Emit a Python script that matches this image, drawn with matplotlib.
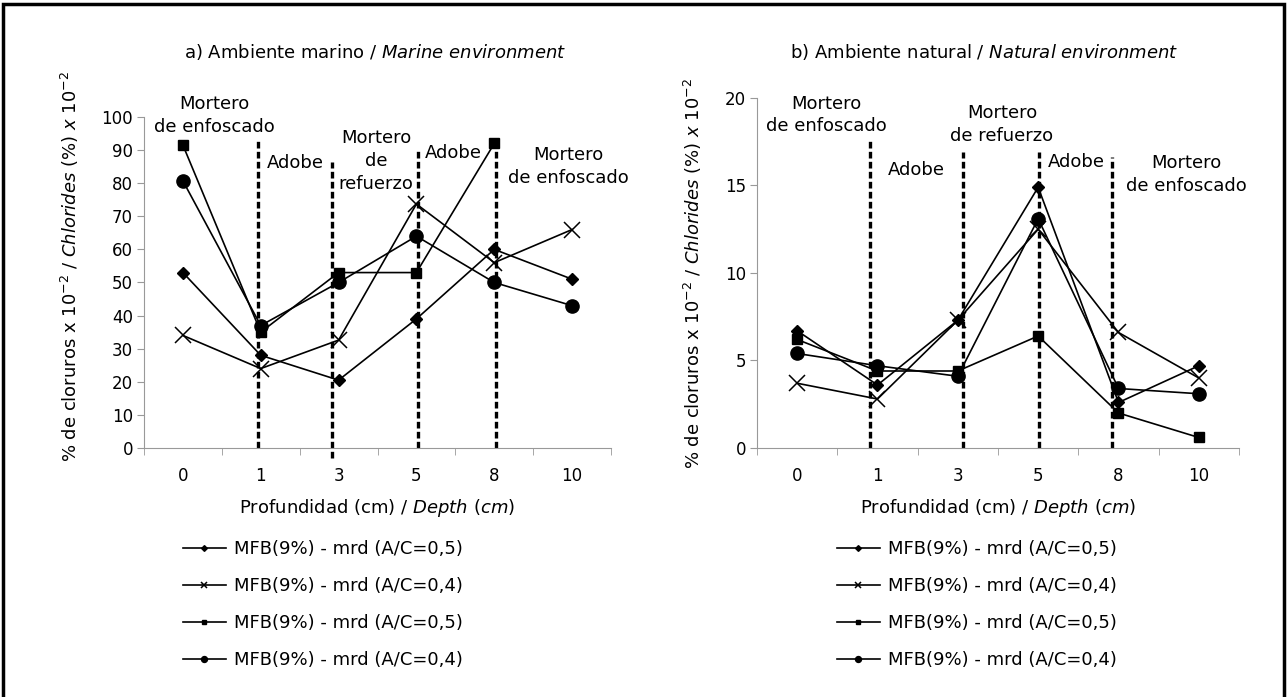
import numpy as np
import matplotlib
matplotlib.use("Agg")
import matplotlib.pyplot as plt
from matplotlib.patches import Rectangle

plt.rcParams['font.family'] = ['DejaVu Sans']

depths = ["0", "1", "3", "5", "8", "10"]
labels = ["MFB(9%) - mrd (A/C=0,5)", "MFB(9%) - mrd (A/C=0,4)",
          "MFB(9%) - mrd (A/C=0,5)", "MFB(9%) - mrd (A/C=0,4)"]

# a) marine environment
marine_diamond = [53, 28, 20.5, 39, 60, 51]
marine_cross = [34, 24, 32.6, 73.7, 56, 66]
marine_square = [91.5, 35, 53, 53, 92, np.nan]
marine_circle = [80.7, 37, 50, 64, 50, 43]

# b) natural environment
natural_diamond = [6.7, 3.6, 7.3, 14.9, 2.6, 4.7]
natural_cross = [3.7, 2.8, 7.3, 12.5, 6.6, 4.0]
natural_square = [6.2, 4.4, 4.4, 6.4, 2.0, 0.6]
natural_circle = [5.4, 4.7, 4.1, 13.1, 3.4, 3.1]

# layer boundaries (x in category units, top, bottom)
marine_bounds = [(0.965, 93, 0), (1.916, 86.4, -3), (3.02, 90, 0), (4.02, 92.5, 0)]
natural_bounds = [(0.907, 17.6, 0), (2.064, 16.9, 0), (3.01, 16.9, 0), (3.92, 16.6, 0)]

marine_notes = [(0.41, 100.4, "Mortero\nde enfoscado"), (1.44, 86.1, "Adobe"),
                (2.48, 86.7, "Mortero\nde\nrefuerzo"), (3.48, 89.1, "Adobe"),
                (4.95, 85.0, "Mortero\nde enfoscado")]
natural_notes = [(0.36, 19.03, "Mortero\nde enfoscado"), (1.48, 15.9, "Adobe"),
                 (2.55, 18.49, "Mortero\nde refuerzo"), (3.47, 16.34, "Adobe"),
                 (4.85, 15.63, "Mortero\nde enfoscado")]

fig = plt.figure(figsize=(12.87, 6.97), dpi=100)
fig.patch.set_facecolor('white')

ax1 = fig.add_axes([0.11189, 0.35725, 0.36286, 0.47489])
ax2 = fig.add_axes([0.58819, 0.35725, 0.37451, 0.50215])

styles = [dict(marker='D', ms=6.5), dict(marker='x', ms=11, mew=1.1),
          dict(marker='s', ms=7), dict(marker='o', ms=9.5)]

ylab = r"% de cloruros x 10$^{-2}$ / $\mathit{Chlorides\ (\%)\ x\ 10^{-2}}$"

def setup(ax, series, ymax, ystep, bounds, notes, leg_x):
    x = np.arange(len(depths))
    for s, st, lab in zip(series, styles, labels):
        ax.plot(x, s, color='black', lw=1.2, label=lab, **st)
    for bx, top, bot in bounds:
        ax.plot([bx, bx], [bot, top], color='black', lw=2.4,
                linestyle=(0, (2, 1)), clip_on=False, zorder=1)
    for tx, ty, t in notes:
        ax.text(tx, ty, t, ha='center', va='center', fontsize=13,
                linespacing=1.35, multialignment='center')
    ax.set_xlim(-0.5, 5.5)
    ax.set_ylim(0, ymax)
    ax.set_yticks(np.arange(0, ymax + 1, ystep))
    ax.set_xticks(x)
    ax.set_xticklabels(depths)
    ax.set_xticks(np.arange(-0.5, 6, 1), minor=True)
    ax.tick_params(axis='x', which='major', length=0, pad=14, labelsize=12)
    ax.tick_params(axis='x', which='minor', length=5, color='#999999')
    ax.tick_params(axis='y', length=5, color='#999999', pad=3, labelsize=12)
    for sp in ['top', 'right']:
        ax.spines[sp].set_visible(False)
    for sp in ['left', 'bottom']:
        ax.spines[sp].set_color('#999999')
    ax.set_ylabel(ylab, fontsize=13)
    ax.set_xlabel(r"Profundidad (cm) / $\mathit{Depth\ (cm)}$", fontsize=13, labelpad=8)
    ax.legend(loc='upper left', bbox_to_anchor=(leg_x, 0.225),
              bbox_transform=fig.transFigure, frameon=False, fontsize=13,
              markerscale=0.45, handlelength=2.4, handletextpad=0.45,
              labelspacing=1.05, borderpad=0, borderaxespad=0)

setup(ax1, [marine_diamond, marine_cross, marine_square, marine_circle],
      100, 10, marine_bounds, marine_notes, 0.142)
setup(ax2, [natural_diamond, natural_cross, natural_square, natural_circle],
      20, 5, natural_bounds, natural_notes, 0.650)

ax1.yaxis.set_label_coords(-0.135, 0.55)
ax2.yaxis.set_label_coords(-0.11, 0.5)

fig.text(375 / 1287, 1 - 52 / 697, r"a) Ambiente marino / $\mathit{Marine\ environment}$",
         ha='center', va='center', fontsize=13)
fig.text(984 / 1287, 1 - 52 / 697, r"b) Ambiente natural / $\mathit{Natural\ environment}$",
         ha='center', va='center', fontsize=13)

fig.patches.append(Rectangle((2.5 / 1287, -0.05), 1281 / 1287, 1.05 - 3.5 / 697,
                             transform=fig.transFigure, fill=False,
                             edgecolor='black', lw=2.5))

fig.savefig("out.png", dpi=100, facecolor='white')
